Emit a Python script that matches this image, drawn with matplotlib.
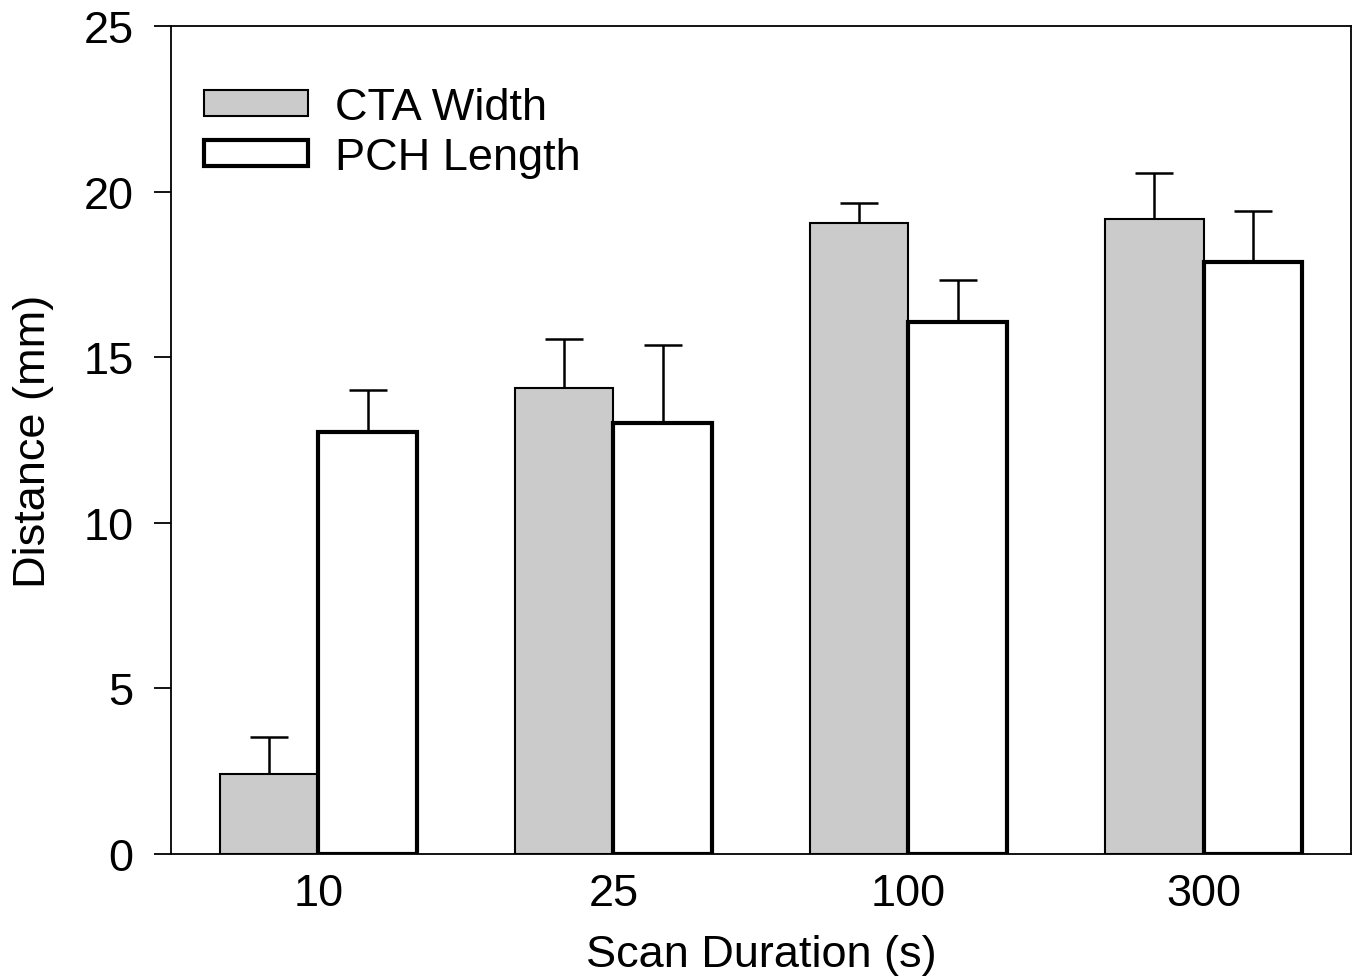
import matplotlib
matplotlib.use("Agg")
import matplotlib.pyplot as plt
import numpy as np

plt.rcParams['font.family'] = ['Liberation Sans', 'DejaVu Sans']

categories = ["10", "25", "100", "300"]
cta_width = [2.42, 14.07, 19.04, 19.16]
cta_err = [1.12, 1.49, 0.63, 1.39]
pch_length = [12.74, 13.01, 16.07, 17.86]
pch_err = [1.27, 2.37, 1.27, 1.54]

fig = plt.figure(figsize=(13.6, 9.79), dpi=100)
ax = fig.add_axes([0.1257, 0.1267, 0.8677, 0.8457])

x = np.arange(len(categories))
w = 1/3
ax.bar(x - w/2, cta_width, w, color='#cbcbcb', edgecolor='black', linewidth=1.5,
       label='CTA Width', zorder=2)
ax.bar(x + w/2, pch_length, w, color='white', edgecolor='black', linewidth=3,
       label='PCH Length', zorder=3)
ax.errorbar(x - w/2, cta_width, yerr=[np.zeros(4), cta_err], fmt='none',
            ecolor='black', elinewidth=1.8, capsize=13.5, capthick=1.8, zorder=1)
ax.errorbar(x + w/2, pch_length, yerr=[np.zeros(4), pch_err], fmt='none',
            ecolor='black', elinewidth=1.8, capsize=13.5, capthick=1.8, zorder=1)

ax.set_xlim(-0.5, 3.5)
ax.set_ylim(0, 25)
ax.set_xticks(x)
ax.set_xticklabels(categories)
ax.set_yticks([0, 5, 10, 15, 20, 25])
ax.tick_params(axis='x', length=0, pad=14, labelsize=32.5)
ax.tick_params(axis='y', length=12, width=1.3, direction='out', pad=15, labelsize=32.5)
for s in ax.spines.values():
    s.set_linewidth(1.3)

ax.set_xlabel('Scan Duration (s)', fontsize=32.5, labelpad=14)
ax.set_ylabel('Distance (mm)', fontsize=32.5, labelpad=21)

leg = ax.legend(loc='upper left', bbox_to_anchor=(0.013, 0.948), frameon=False,
                fontsize=32.5, handlelength=2.3, handleheight=0.5,
                handletextpad=0.6, labelspacing=0.2, borderaxespad=0)

fig.savefig('out.png', dpi=100)
